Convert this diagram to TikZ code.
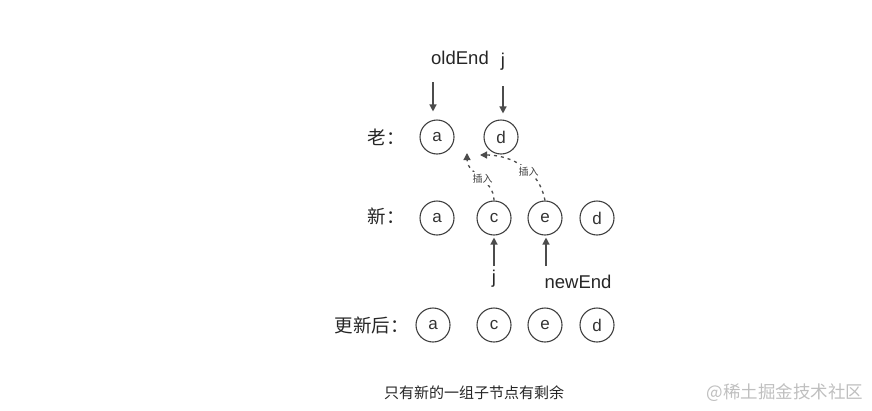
\documentclass[tikz,border=0pt]{standalone}
\usepackage{fontspec}
\setmainfont{Liberation Sans}
\newfontfamily\cjk{Noto Sans CJK SC}
\usetikzlibrary{positioning,arrows.meta}

\begin{document}
\begin{tikzpicture}[x=1pt,y=-1pt]
            \tikzstyle{elem}=[circle,draw=black!75,line width=1.1pt,minimum size=34pt,inner sep=0pt,font=\fontsize{17}{17}\selectfont,text=black!80]
            \tikzstyle{rowlabel}=[anchor=west,font=\cjk\fontsize{18.5}{18.5}\selectfont,text=black!85]
            \tikzstyle{ptr}=[draw=black!70,line width=1.3pt,-{Triangle[length=7pt,width=7pt]}]
            \tikzstyle{ins}=[ptr,dash pattern=on 3pt off 4pt]
            \tikzstyle{inslabel}=[fill=white,inner sep=2pt,font=\cjk\fontsize{10}{10}\selectfont,text=black!75]
            \tikzstyle{ptrlabel}=[font=\fontsize{18.5}{18.5}\selectfont,text=black!85]

            \useasboundingbox (0,0) rectangle (872,410);

            % rows
            \node[rowlabel] (lOld) at (364,137) {老：};
            \node[rowlabel] (lNew) at (364,216) {新：};
            \node[rowlabel] (lRes) at (331,325) {更新后：};

            \node[elem] (oa) at (437,137) {a};
            \node[elem] (od) at (501,137) {d};

            \node[elem] (na) at (437,218) {a};
            \node[elem] (nc) at (494,218) {c};
            \node[elem] (ne) at (545,218) {e};
            \node[elem] (nd) at (597,218) {d};

            \node[elem] (ra) at (433,325) {a};
            \node[elem] (rc) at (494,325) {c};
            \node[elem] (re) at (545,325) {e};
            \node[elem] (rd) at (597,325) {d};

            % pointers
            \node[ptrlabel] (oldEnd) at (460,58) {oldEnd};
            \node[ptrlabel] (jOld) at (503,62) {j};
            \coordinate (oldEndTip) at (433,82);
            \coordinate (jOldTip) at (503,86);
            \draw[ptr,shorten >=8pt] (oldEndTip) -- (oa.north -| oldEndTip);
            \draw[ptr,shorten >=6pt] (jOldTip) -- (od.north -| jOldTip);

            \node[ptrlabel] (jNew) at (494,279) {j};
            \node[ptrlabel] (newEnd) at (578,282) {newEnd};
            \coordinate (jNewTail) at (494,266);
            \coordinate (newEndTail) at (546,266);
            \draw[ptr,shorten >=2pt] (jNewTail) -- (nc.south);
            \draw[ptr,shorten >=2pt] (newEndTail) -- (ne.south -| newEndTail);

            % inserts
            \coordinate (insC) at (467,153);
            \coordinate (insE) at (480,155);
            \draw[ins] (nc.north) to[out=90,in=-90] node[pos=0.45,inslabel] (insLabC) {插入} (insC);
            \draw[ins] (ne.north) to[out=100,in=0] node[pos=0.4,inslabel] (insLabE) {插入} (insE);

            % caption
            \node[font=\cjk\fontsize{15}{15}\selectfont,text=black!85] (caption) at (474,393) {只有新的一组子节点有剩余};
            \node[font=\cjk\fontsize{17.5}{17.5}\selectfont,text=black!25] (mark) at (785,393) {@稀土掘金技术社区};
        \end{tikzpicture}
\end{document}
